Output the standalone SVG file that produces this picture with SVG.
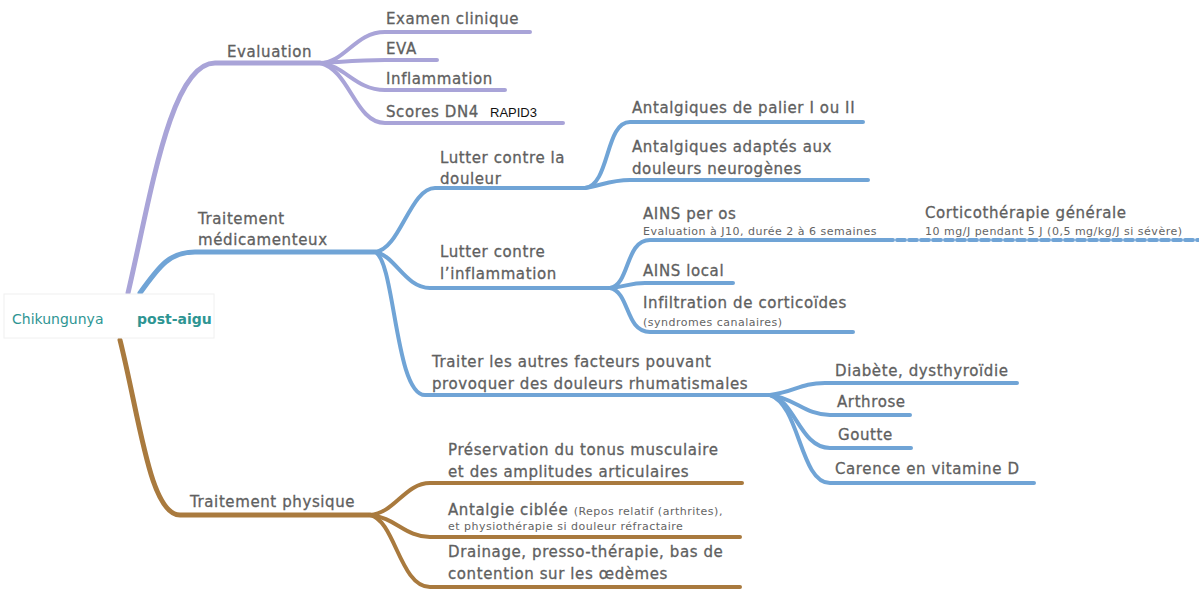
<svg xmlns="http://www.w3.org/2000/svg" width="1199" height="591" viewBox="0 0 1199 591">
<style>
.t{font-family:"DejaVu Sans","Liberation Sans",sans-serif;font-size:15px;letter-spacing:0.6px;fill:#606060;stroke:#606060;stroke-width:0.3px}
.s{font-family:"DejaVu Sans","Liberation Sans",sans-serif;font-size:11px;letter-spacing:0.5px;fill:#646464;stroke:none}
.root{font-family:"DejaVu Sans","Liberation Sans",sans-serif;font-size:14px;fill:#2e9593}
.p{fill:none;stroke:#a9a4d8;stroke-width:4;stroke-linecap:round}
.b{fill:none;stroke:#70a4d6;stroke-width:4;stroke-linecap:round}
.br{fill:none;stroke:#a97a3e;stroke-width:4;stroke-linecap:round}
.m{stroke-width:5}
</style>
<rect width="1199" height="591" fill="#ffffff"/>
<g id="connectors">
<path class="p m" d="M128,293 C150,200 170,63 215,63 H320"/>
<path class="p" d="M320,63 C345,63 355,32 385,32 H530"/>
<path class="p" d="M320,63 C340,62 360,60 385,60 H437"/>
<path class="p" d="M320,63 C345,65 355,90 385,90 H505"/>
<path class="p" d="M320,63 C350,70 355,123 385,123 H563"/>
<path class="b m" d="M140,293 C160,265 170,252 195,252 H375"/>
<path class="b" d="M375,252 C400,250 410,188 435,188 H585"/>
<path class="b" d="M375,252 C395,255 405,288 430,288 H610"/>
<path class="b" d="M375,252 C395,260 395,395 425,395 H770"/>
<path class="b" d="M585,188 C610,185 605,122 630,122 H863"/>
<path class="b" d="M585,188 C600,186 610,180 630,180 H868"/>
<path class="b" d="M610,288 C630,285 625,240 650,240 H885"/>
<path class="b" d="M610,288 C625,287 630,283 645,283 H733"/>
<path class="b" d="M610,288 C630,292 625,332 650,332 H853"/>
<path class="b" d="M885,240 H1199" stroke-dasharray="8 4" stroke-linecap="butt"/>
<path class="b" d="M770,395 C795,392 800,383 825,383 H1017"/>
<path class="b" d="M770,395 C795,398 805,415 830,415 H910"/>
<path class="b" d="M770,395 C795,400 800,448 830,448 H911"/>
<path class="b" d="M770,395 C800,405 800,483 830,483 H1034"/>
<path class="br m" d="M120,340 C140,420 150,515 180,515 H370"/>
<path class="br" d="M370,515 C395,513 405,483 430,483 H742"/>
<path class="br" d="M370,515 C395,517 405,537 430,537 H740"/>
<path class="br" d="M370,515 C395,520 400,587 430,587 H740"/>
</g>
<g id="root">
<rect x="4" y="294" width="210" height="44" fill="#ffffff" stroke="#f0f0f0"/>
<text class="root" x="12" y="324">Chikungunya</text>
<text class="root" x="137" y="324" font-weight="bold">post-aigu</text>
</g>
<g id="evaluation"><text class="t" x="227" y="57">Evaluation</text></g>
<g id="examen"><text class="t" x="386" y="24">Examen clinique</text></g>
<g id="eva"><text class="t" x="386" y="54">EVA</text></g>
<g id="inflammation"><text class="t" x="386" y="84">Inflammation</text></g>
<g id="scores"><text class="t" x="386" y="117">Scores DN4</text><text x="490" y="117" font-family="Liberation Sans,sans-serif" font-size="13" fill="#111">RAPID3</text></g>
<g id="medic"><text class="t" x="198" y="224">Traitement</text><text class="t" x="198" y="245">médicamenteux</text></g>
<g id="douleur"><text class="t" x="440" y="163">Lutter contre la</text><text class="t" x="440" y="184">douleur</text></g>
<g id="palier"><text class="t" x="632" y="113">Antalgiques de palier I ou II</text></g>
<g id="neuro"><text class="t" x="632" y="152">Antalgiques adaptés aux</text><text class="t" x="632" y="174">douleurs neurogènes</text></g>
<g id="inflam"><text class="t" x="440" y="257">Lutter contre</text><text class="t" x="440" y="279">l’inflammation</text></g>
<g id="ains-os"><text class="t" x="643" y="219">AINS per os</text><text class="s" x="643" y="235">Evaluation à J10, durée 2 à 6 semaines</text></g>
<g id="cortico"><text class="t" x="925" y="218">Corticothérapie générale</text><text class="s" x="925" y="235">10 mg/J pendant 5 J (0,5 mg/kg/J si sévère)</text></g>
<g id="ains-local"><text class="t" x="643" y="276">AINS local</text></g>
<g id="infiltration"><text class="t" x="643" y="308">Infiltration de corticoïdes</text><text class="s" x="643" y="326">(syndromes canalaires)</text></g>
<g id="traiter"><text class="t" x="432" y="367">Traiter les autres facteurs pouvant</text><text class="t" x="432" y="389">provoquer des douleurs rhumatismales</text></g>
<g id="diabete"><text class="t" x="835" y="376">Diabète, dysthyroïdie</text></g>
<g id="arthrose"><text class="t" x="837" y="407">Arthrose</text></g>
<g id="goutte"><text class="t" x="838" y="440">Goutte</text></g>
<g id="carence"><text class="t" x="835" y="474">Carence en vitamine D</text></g>
<g id="physique"><text class="t" x="190" y="507">Traitement physique</text></g>
<g id="preservation"><text class="t" x="448" y="455">Préservation du tonus musculaire</text><text class="t" x="448" y="477">et des amplitudes articulaires</text></g>
<g id="antalgie"><text class="t" x="448" y="515" font-size="16.5">Antalgie ciblée <tspan class="s" font-size="10.5">(Repos relatif (arthrites),</tspan></text><text class="s" x="448" y="530" font-size="10.5">et physiothérapie si douleur réfractaire</text></g>
<g id="drainage"><text class="t" x="448" y="557">Drainage, presso-thérapie, bas de</text><text class="t" x="448" y="579">contention sur les œdèmes</text></g>
</svg>
